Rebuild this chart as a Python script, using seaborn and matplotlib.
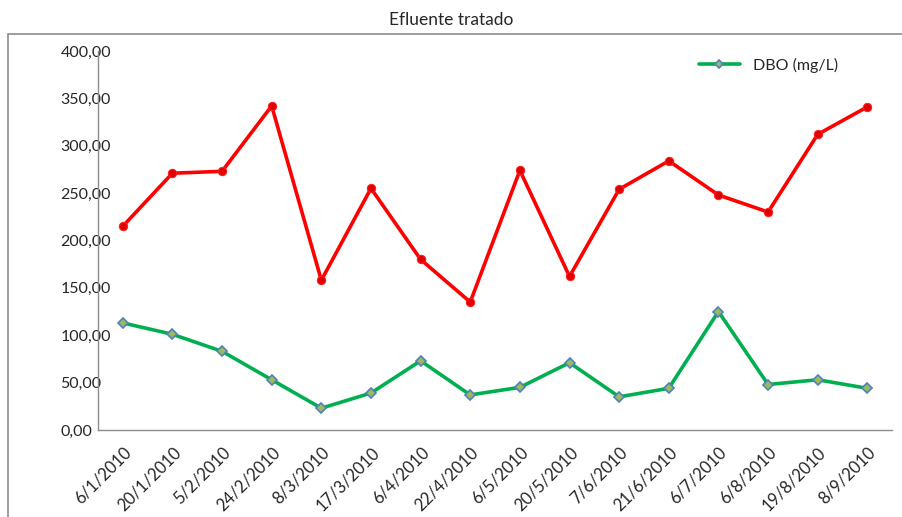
#! /usr/bin/env python3
'''
Efluente tratado - DBO line chart
'''
import matplotlib
matplotlib.use('Agg')
import matplotlib.pyplot as plt
from matplotlib.patches import Rectangle
from matplotlib.ticker import FuncFormatter
import pandas as pd
import seaborn as sns

# data
DATES = ['6/1/2010', '20/1/2010', '5/2/2010', '24/2/2010', '8/3/2010', '17/3/2010',
         '6/4/2010', '22/4/2010', '6/5/2010', '20/5/2010', '7/6/2010', '21/6/2010',
         '6/7/2010', '6/8/2010', '19/8/2010', '8/9/2010']
RED = [215, 271, 273, 342, 158, 255, 180, 135, 274, 162, 254, 284, 248, 230, 312, 341]
DBO = [113, 101, 83, 53, 23, 39, 73, 37, 45, 71, 35, 44, 125, 48, 53, 44]

df = pd.DataFrame({'x': range(len(DATES)), 'red': RED, 'dbo': DBO})

# set things up
sns.set_style("white")
plt.rcParams['font.family'] = ['Lato', 'DejaVu Sans']

fig = plt.figure(figsize=(9.03, 5.17), dpi=100)
ax = fig.add_axes([0.1085, 0.1683, 0.8795, 0.7331])

# outer chart border (bottom and right edges fall outside the picture)
fig.patches.append(Rectangle((8 / 903, -0.05), 1.2, (517 - 34) / 517 + 0.05, transform=fig.transFigure,
                             fill=False, edgecolor='#8c8c8c', linewidth=1.2))
fig.text(0.5, 0.962, 'Efluente tratado', ha='center', va='center', fontsize=12.5)

sns.lineplot(data=df, x='x', y='red', ax=ax, color='#ff0000', linewidth=2.6,
             marker='o', markersize=6, markerfacecolor='#e00000', markeredgecolor='#ff2020',
             sort=False, legend=False)
sns.lineplot(data=df, x='x', y='dbo', ax=ax, color='#00b050', linewidth=2.6,
             marker='D', markersize=5.5, markerfacecolor='#9bbb59', markeredgecolor='#4f81bd',
             markeredgewidth=1.2, sort=False, label='DBO (mg/L)')

ax.set_ylim(0, 400)
ax.set_yticks(range(0, 401, 50))
ax.yaxis.set_major_formatter(FuncFormatter(lambda v, p: ('%.2f' % v).replace('.', ',')))
ax.set_xlim(-0.5, len(DATES) - 0.5)
ax.set_xticks([i - 0.5 for i in range(len(DATES) + 1)])
ax.set_xticklabels([])
ax.set_xticks(range(len(DATES)), minor=True)
ax.set_xticklabels(DATES, minor=True, rotation=45, ha='right', rotation_mode='anchor', fontsize=12)
ax.tick_params(axis='x', which='major', direction='out', length=5, color='#8c8c8c', width=1)
ax.tick_params(axis='x', which='minor', length=0, pad=10)
ax.tick_params(axis='y', direction='out', length=4, color='#8c8c8c', width=1, labelsize=11.5, pad=23)
for lbl in ax.get_yticklabels():
    lbl.set_horizontalalignment('left')
ax.set_xlabel('')
ax.set_ylabel('')
for s in ['top', 'right']:
    ax.spines[s].set_visible(False)
for s in ['left', 'bottom']:
    ax.spines[s].set_color('#8c8c8c')
    ax.spines[s].set_linewidth(1)

leg = ax.legend(loc='upper right', bbox_to_anchor=(0.95, 1.02), frameon=False, fontsize=11.5,
                handlelength=2.6)
for h in leg.legend_handles:
    h.set_markersize(4)

fig.savefig('out.png', dpi=100)
